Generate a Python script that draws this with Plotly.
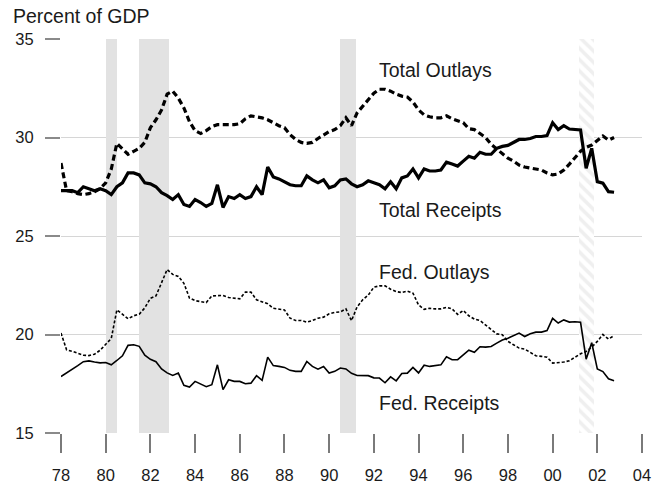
import numpy as np
import plotly.graph_objects as go

# Quarterly observations, 1978Q1 through 2002Q4 (percent of GDP)
quarters = [(y, q) for y in range(1978, 2003) for q in range(1, 5)]
x_years = [y + (q - 1) / 4 for y, q in quarters]

total_outlays = [
    28.7, 27.3, 27.25, 27.15, 27.1, 27.15, 27.25, 27.4, 27.7, 28.4,
    29.7, 29.45, 29.15, 29.3, 29.45, 29.75, 30.5, 30.9, 31.4, 32.2,
    32.35, 32.0, 31.5, 30.8, 30.35, 30.2, 30.35, 30.55, 30.65, 30.65,
    30.65, 30.65, 30.7, 30.95, 31.1, 31.05, 31.0, 30.9, 30.75, 30.6,
    30.5, 30.15, 29.9, 29.75, 29.7, 29.75, 29.95, 30.15, 30.3, 30.4,
    30.6, 31.0, 30.6, 31.25, 31.6, 31.95, 32.25, 32.45, 32.45, 32.35,
    32.2, 32.1, 32.05, 31.8, 31.4, 31.15, 31.05, 31.0, 31.0, 31.1,
    30.95, 30.85, 30.75, 30.45, 30.4, 30.2, 30.0, 29.65, 29.4, 29.2,
    28.95, 28.8, 28.6, 28.5, 28.45, 28.4, 28.35, 28.2, 28.1, 28.15,
    28.35, 28.65, 29.0, 29.3, 29.5, 29.62, 29.85, 30.08, 29.87, 30.0,
]

total_receipts = [
    27.3, 27.3, 27.3, 27.2, 27.5, 27.4, 27.3, 27.4, 27.3, 27.1,
    27.5, 27.7, 28.2, 28.2, 28.1, 27.7, 27.65, 27.5, 27.2, 27.05,
    26.85, 27.1, 26.6, 26.5, 26.85, 26.7, 26.5, 26.65, 27.6, 26.45,
    27.0, 26.9, 27.1, 26.9, 27.0, 27.5, 27.1, 28.5, 28.0, 27.9,
    27.75, 27.6, 27.55, 27.55, 28.05, 27.85, 27.7, 27.85, 27.45, 27.55,
    27.85, 27.9, 27.65, 27.5, 27.6, 27.8, 27.7, 27.6, 27.4, 27.75,
    27.4, 27.95, 28.05, 28.4, 27.95, 28.4, 28.3, 28.3, 28.35, 28.75,
    28.65, 28.55, 28.8, 29.05, 28.95, 29.25, 29.15, 29.15, 29.45, 29.55,
    29.6, 29.75, 29.9, 29.9, 29.95, 30.05, 30.05, 30.1, 30.75, 30.4,
    30.6, 30.43, 30.42, 30.38, 28.44, 29.45, 27.76, 27.68, 27.25, 27.22,
]

fed_outlays = [
    20.07, 19.22, 19.15, 19.05, 18.95, 18.93, 19.0, 19.2, 19.5, 19.8,
    21.25, 21.0, 20.8, 20.95, 21.03, 21.35, 21.84, 21.96, 22.6, 23.3,
    23.05, 22.95, 22.6, 21.85, 21.72, 21.68, 21.62, 21.96, 21.98, 21.98,
    21.88, 21.84, 21.81, 22.15, 22.15, 21.76, 21.64, 21.56, 21.33, 21.3,
    21.25, 20.83, 20.71, 20.71, 20.63, 20.71, 20.83, 20.88, 21.05, 21.12,
    21.15, 21.3, 20.7, 21.4, 21.76, 22.0, 22.4, 22.47, 22.47, 22.3,
    22.18, 22.13, 22.2, 22.1, 21.5, 21.28, 21.33, 21.3, 21.3, 21.38,
    21.3, 21.02, 21.22, 20.95, 20.78, 20.71, 20.48, 20.25, 20.03, 19.99,
    19.65, 19.48, 19.31, 19.26, 19.11, 18.92, 18.89, 18.85, 18.55, 18.58,
    18.6, 18.67, 18.84, 19.02, 19.14, 19.36, 19.65, 20.0, 19.77, 19.94,
]

fed_receipts = [
    17.87, 18.04, 18.25, 18.42, 18.62, 18.66, 18.6, 18.56, 18.58, 18.46,
    18.68, 18.92, 19.45, 19.48, 19.4, 18.95, 18.74, 18.62, 18.25, 18.05,
    17.92, 18.04, 17.42, 17.33, 17.62, 17.47, 17.35, 17.45, 18.46, 17.2,
    17.7, 17.62, 17.62, 17.5, 17.53, 17.91, 17.67, 18.85, 18.42, 18.38,
    18.33, 18.18, 18.13, 18.13, 18.63, 18.38, 18.24, 18.38, 18.04, 18.13,
    18.3, 18.25, 18.03, 17.92, 17.91, 17.91, 17.8, 17.79, 17.55, 17.85,
    17.65, 18.02, 18.04, 18.33, 18.05, 18.44, 18.38, 18.41, 18.46, 18.87,
    18.72, 18.72, 18.96, 19.2, 19.1, 19.38, 19.36, 19.39, 19.56, 19.72,
    19.81, 19.94, 20.07, 19.9, 20.04, 20.12, 20.12, 20.2, 20.82, 20.58,
    20.74, 20.63, 20.65, 20.62, 18.75, 19.58, 18.25, 18.12, 17.75, 17.65,
]

# Recessions (start, end) in decimal years; the 2001 one is shown hatched
recessions = [(1980.0, 1980.5), (1981.5, 1982.85), (1990.5, 1991.2)]
recession_2001 = (2001.2, 2001.87)

tick_years = list(range(1978, 2005, 2))
tick_labels = [f"{y % 100:02d}" for y in tick_years]
y_ticks = [15, 20, 25, 30, 35]

FONT = "Liberation Sans, Arial, Helvetica, sans-serif"
INK = "#1a1a1a"
Y_MIN, Y_MAX = 15, 35

fig = go.Figure()

# Recession shading
fig.add_trace(go.Bar(
    x=[(a + b) / 2 for a, b in recessions],
    y=[Y_MAX - Y_MIN] * len(recessions),
    base=[Y_MIN] * len(recessions),
    width=[b - a for a, b in recessions],
    marker=dict(color="#e2e2e2", line=dict(width=0)),
    hoverinfo="skip", showlegend=False,
))
fig.add_trace(go.Bar(
    x=[sum(recession_2001) / 2],
    y=[Y_MAX - Y_MIN],
    base=[Y_MIN],
    width=[recession_2001[1] - recession_2001[0]],
    marker=dict(
        color="white", line=dict(width=0),
        pattern=dict(shape="\\", fgcolor="#e0e0e0", bgcolor="white",
                     size=8, solidity=0.45),
    ),
    hoverinfo="skip", showlegend=False,
))

# Series
fig.add_trace(go.Scatter(x=x_years, y=total_outlays, mode="lines",
                         line=dict(color="black", width=3.2, dash="6px,3.5px"),
                         name="Total Outlays", showlegend=False))
fig.add_trace(go.Scatter(x=x_years, y=total_receipts, mode="lines",
                         line=dict(color="black", width=3.2),
                         name="Total Receipts", showlegend=False))
fig.add_trace(go.Scatter(x=x_years, y=fed_outlays, mode="lines",
                         line=dict(color="black", width=1.6, dash="3px,2px"),
                         name="Fed. Outlays", showlegend=False))
fig.add_trace(go.Scatter(x=x_years, y=fed_receipts, mode="lines",
                         line=dict(color="black", width=1.6),
                         name="Fed. Receipts", showlegend=False))

# Series labels
labels = [
    ("Total Outlays", 33.42),
    ("Total Receipts", 26.32),
    ("Fed. Outlays", 23.19),
    ("Fed. Receipts", 16.54),
]
for text, yv in labels:
    fig.add_annotation(x=1992.15, y=yv, text=text, showarrow=False,
                       xanchor="left", yanchor="middle",
                       font=dict(family=FONT, size=19.5, color=INK))

fig.update_layout(
    width=668, height=486,
    margin=dict(l=61, r=26, t=39, b=53, autoexpand=False),
    paper_bgcolor="white", plot_bgcolor="white",
    barmode="overlay", bargap=0,
    title=dict(text="Percent of GDP", x=13 / 668, xanchor="left",
               y=1 - 16 / 486, yanchor="middle", yref="container",
               font=dict(family=FONT, size=19.5, color=INK)),
    xaxis=dict(
        range=[1978, 2004], tickmode="array", tickvals=tick_years,
        ticktext=tick_labels, ticks="outside", ticklen=19, tickwidth=1.5,
        tickcolor="#7a7a7a", showgrid=False, zeroline=False, showline=False,
        tickfont=dict(family=FONT, size=16.5, color=INK),
        ticklabelstandoff=8, automargin=False, fixedrange=True,
    ),
    yaxis=dict(
        range=[Y_MIN, Y_MAX], tickmode="array", tickvals=y_ticks,
        ticks="outside", ticklen=15, tickwidth=1.5, tickcolor="#8a8a8a",
        showgrid=True, gridcolor="#d6d6d6", gridwidth=1,
        zeroline=False, showline=False,
        tickfont=dict(family=FONT, size=16.5, color=INK),
        ticklabelstandoff=8, automargin=False, fixedrange=True,
    ),
)

fig.write_html("out.html")
